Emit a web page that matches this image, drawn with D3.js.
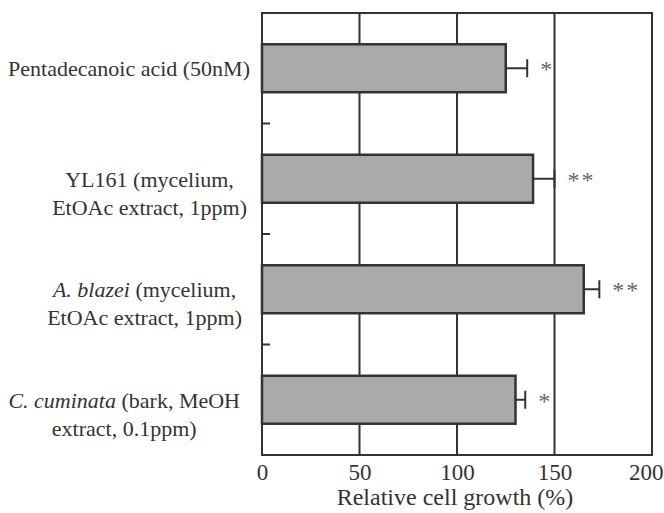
<!DOCTYPE html>
<html><head><meta charset="utf-8">
<script src="https://cdn.jsdelivr.net/npm/d3@7"></script>
<style>body{margin:0;background:#fff}</style></head>
<body><svg id="c" width="664" height="513"></svg>
<script>
const categories = ["Pentadecanoic", "YL161", "A. blazei", "C. cuminata"];
const labelLines = [
  [[["Pentadecanoic acid (50nM)", false]]],
  [[["YL161 (mycelium,", false]], [["EtOAc extract, 1ppm)", false]]],
  [[["A. blazei", true], [" (mycelium,", false]], [["EtOAc extract, 1ppm)", false]]],
  [[["C. cuminata", true], [" (bark, MeOH", false]], [["extract, 0.1ppm)", false]]]
];
const values = [125, 139, 165, 130];
const errors = [11, 11, 8, 5];
const signif = ["*", "**", "**", "*"];
const xTicks = [0, 50, 100, 150, 200];
const xTitle = "Relative cell growth (%)";

const svg = d3.select("#c");
const L = 262, R = 652, T = 13, B = 455;
const font = "'Liberation Serif', 'Times New Roman', serif";
const ink = "#333";

const x = d3.scaleLinear().domain([0, 200]).range([L, R]);
const y = d3.scaleBand().domain(categories).range([T, B]).paddingInner(0.566).paddingOuter(0.283);

// gridlines
svg.append("g").selectAll("line").data(xTicks.filter(d => d > 0 && d < 200)).join("line")
  .attr("x1", d => x(d)).attr("x2", d => x(d)).attr("y1", T).attr("y2", B)
  .attr("stroke", ink).attr("stroke-width", 2);

// x axis labels
const xAxis = d3.axisBottom(x).tickValues(xTicks).tickSize(0).tickPadding(9);
const gx = svg.append("g").attr("transform", `translate(0,${B})`).call(xAxis);
gx.select(".domain").remove();
gx.selectAll("text").attr("font-family", font).attr("font-size", 23).attr("fill", ink);
// keep the last label inside the page
gx.selectAll(".tick").filter(d => d === 200).select("text").attr("text-anchor", "end").attr("x", 11);

// category boundary ticks (inner left)
const centers = categories.map(c => y(c) + y.bandwidth() / 2);
const bounds = centers.slice(1).map((c, i) => (c + centers[i]) / 2);
svg.append("g").selectAll("line").data(bounds).join("line")
  .attr("x1", L).attr("x2", L + 8).attr("y1", d => d).attr("y2", d => d)
  .attr("stroke", ink).attr("stroke-width", 2);

// bars
svg.append("g").selectAll("rect").data(categories).join("rect")
  .attr("x", x(0)).attr("y", d => y(d))
  .attr("width", (d, i) => x(values[i]) - x(0)).attr("height", y.bandwidth())
  .attr("fill", "#aaaaaa").attr("stroke", ink).attr("stroke-width", 2.5);

// error bars
const eb = svg.append("g").attr("stroke", ink).attr("stroke-width", 2);
categories.forEach((c, i) => {
  const cy = y(c) + y.bandwidth() / 2;
  eb.append("line").attr("x1", x(values[i])).attr("x2", x(values[i] + errors[i])).attr("y1", cy).attr("y2", cy);
  eb.append("line").attr("x1", x(values[i] + errors[i])).attr("x2", x(values[i] + errors[i])).attr("y1", cy - 9).attr("y2", cy + 9);
  svg.append("text").attr("x", x(values[i] + errors[i]) + 13).attr("y", cy + 9)
    .attr("font-family", font).attr("font-size", 24).attr("fill", "#666")
    .attr("letter-spacing", 2).text(signif[i]);
});

// frame
svg.append("rect").attr("x", L).attr("y", T).attr("width", R - L).attr("height", B - T)
  .attr("fill", "none").attr("stroke", ink).attr("stroke-width", 2);

// category labels
const rightEdges = [250, 247, 242, 240], lh = 28;
categories.forEach((c, i) => {
  const cy = y(c) + y.bandwidth() / 2;
  const lines = labelLines[i];
  const g = svg.append("g");
  const texts = lines.map((segs, j) => {
    const t = g.append("text").attr("y", cy + 8 + (lines.length > 1 ? j * lh : 0))
      .attr("font-family", font).attr("font-size", 22).attr("fill", ink).attr("text-anchor", "middle");
    segs.forEach(s => t.append("tspan").attr("font-style", s[1] ? "italic" : "normal").text(s[0]));
    return t;
  });
  const maxW = d3.max(texts, t => t.node().getComputedTextLength());
  texts.forEach(t => t.attr("x", rightEdges[i] - maxW / 2));
});

// x title
svg.append("text").attr("x", 455).attr("y", 505).attr("text-anchor", "middle")
  .attr("font-family", font).attr("font-size", 24).attr("fill", ink).text(xTitle);
</script></body></html>
